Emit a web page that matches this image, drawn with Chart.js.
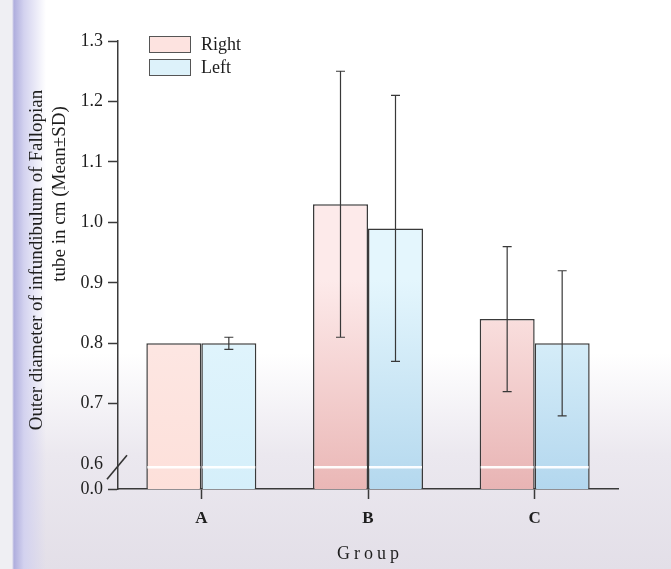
<!DOCTYPE html>
<html>
<head>
<meta charset="utf-8">
<script src="https://cdn.jsdelivr.net/npm/chart.js@4.4.1/dist/chart.umd.min.js"></script>
<style>
    html, body { margin: 0; padding: 0; }
    body {
        width: 671px; height: 569px; position: relative; overflow: hidden;
        font-family: "Liberation Serif", "DejaVu Serif", serif;
        background:
            linear-gradient(to right, #efeff3 0px, #efeff3 12px, #afaedd 14px, #d3d2ef 24px, rgba(255,255,255,0) 46px),
            linear-gradient(to bottom, #ffffff 0%, #ffffff 62%, #ebe8ef 80%, #e3dfe8 100%);
    }
    #chart { position: absolute; left: 0; top: 0; }
    .legend { position: absolute; left: 149px; top: 33px; color: #1e1e1e; font-size: 18px; }
    .legend-item { display: flex; align-items: center; height: 23px; }
    .legend-box { width: 40px; height: 15px; border: 1.5px solid #555; margin-right: 10px; }
</style>
</head>
<body>
<canvas id="chart" width="671" height="569"></canvas>
<div class="legend" id="legend"></div>
<script>
    const grupos = ['A', 'B', 'C'];
    const series = ['Right', 'Left'];
    const mediaRight = [0.80, 1.03, 0.84];
    const sdRight = [0.00, 0.22, 0.12];
    const mediaLeft = [0.80, 0.99, 0.80];
    const sdLeft = [0.01, 0.22, 0.12];
    const yTicks = [0.6, 0.7, 0.8, 0.9, 1.0, 1.1, 1.2, 1.3];
    const yTickLabels = ['0.6', '0.7', '0.8', '0.9', '1.0', '1.1', '1.2', '1.3'];
    const yZeroLabel = '0.0';
    const yBreakBottom = 0.559; // onde o 0.0 fica depois da quebra do eixo
    const yBreakMark = 0.595;

    const corTexto = '#1e1e1e';
    const corLinha = '#3a3a3a';
    const fonte = '"Liberation Serif", "DejaVu Serif", serif';

    // cores dos gradientes (topo, base) por grupo
    const gradRight = [['#fde9e6', '#fde0da'], ['#fdeaea', '#eab7b6'], ['#fde8e7', '#e8b4b4']];
    const gradLeft = [['#e4f6fd', '#d5effa'], ['#e4f6fd', '#b4d8ee'], ['#e4f6fd', '#b3d7ee']];

    function gradiente(grads) {
        return (ctx) => {
            const chart = ctx.chart;
            const area = chart.chartArea;
            const g = grads[ctx.dataIndex] || grads[0];
            if (!area) return g[0];
            const grd = chart.ctx.createLinearGradient(0, 280, 0, area.bottom);
            grd.addColorStop(0, g[0]);
            grd.addColorStop(1, g[1]);
            return grd;
        };
    }

    // legenda em HTML
    const legend = document.getElementById('legend');
    ['#fde3e0', '#ddf2fa'].forEach((c, i) => {
        const item = document.createElement('div');
        item.className = 'legend-item';
        item.innerHTML = `<span class="legend-box" style="background:${c}"></span><span>${series[i]}</span>`;
        legend.appendChild(item);
    });

    // barras de erro, quebra do eixo e títulos
    const extras = {
        id: 'extras',
        afterDatasetsDraw(chart) {
            const { ctx } = chart;
            const y = chart.scales.y;
            const sds = [sdRight, sdLeft];
            const means = [mediaRight, mediaLeft];
            const yb = y.getPixelForValue(yBreakMark);

            chart.data.datasets.forEach((ds, di) => {
                const meta = chart.getDatasetMeta(di);
                meta.data.forEach((bar, i) => {
                    // linha branca da quebra
                    ctx.save();
                    ctx.strokeStyle = 'rgba(255,255,255,0.95)';
                    ctx.lineWidth = 2.5;
                    ctx.beginPath();
                    ctx.moveTo(bar.x - bar.width / 2 + 1, yb);
                    ctx.lineTo(bar.x + bar.width / 2 - 1, yb);
                    ctx.stroke();
                    ctx.restore();

                    const sd = sds[di][i];
                    if (!sd) return;
                    const top = y.getPixelForValue(means[di][i] + sd);
                    const bot = y.getPixelForValue(means[di][i] - sd);
                    ctx.save();
                    ctx.strokeStyle = '#383838';
                    ctx.lineWidth = 1.2;
                    ctx.beginPath();
                    ctx.moveTo(bar.x, top); ctx.lineTo(bar.x, bot);
                    ctx.moveTo(bar.x - 4.5, top); ctx.lineTo(bar.x + 4.5, top);
                    ctx.moveTo(bar.x - 4.5, bot); ctx.lineTo(bar.x + 4.5, bot);
                    ctx.stroke();
                    ctx.restore();
                });
            });

            // traço da quebra no eixo y
            ctx.save();
            ctx.strokeStyle = '#333';
            ctx.lineWidth = 1.6;
            ctx.beginPath();
            ctx.moveTo(y.right - 11, yb + 12);
            ctx.lineTo(y.right + 9, yb - 12);
            ctx.stroke();
            ctx.restore();
        },
        afterDraw(chart) {
            const { ctx } = chart;
            ctx.save();
            ctx.fillStyle = corTexto;
            ctx.font = `19px ${fonte}`;
            ctx.textAlign = 'center';
            ctx.textBaseline = 'middle';
            [['Outer diameter of infundibulum of Fallopian', 37, 260], ['tube in cm (Mean\u00B1SD)', 60, 194]].forEach(([t, x, yy]) => {
                ctx.save();
                ctx.translate(x, yy);
                ctx.rotate(-Math.PI / 2);
                ctx.fillText(t, 0, 0);
                ctx.restore();
            });
            ctx.font = `18px ${fonte}`;
            ctx.letterSpacing = '4px';
            ctx.fillText('Group', 370, 554);
            ctx.restore();
        }
    };

    new Chart(document.getElementById('chart'), {
        type: 'bar',
        data: {
            labels: grupos,
            datasets: [
                {
                    label: series[0],
                    data: mediaRight,
                    backgroundColor: gradiente(gradRight),
                    borderColor: corLinha,
                    borderWidth: 1.5,
                    borderSkipped: 'bottom'
                },
                {
                    label: series[1],
                    data: mediaLeft,
                    backgroundColor: gradiente(gradLeft),
                    borderColor: corLinha,
                    borderWidth: 1.5,
                    borderSkipped: 'bottom'
                }
            ]
        },
        options: {
            responsive: false,
            devicePixelRatio: 1,
            animation: false,
            categoryPercentage: 0.66,
            barPercentage: 1.0,
            layout: { padding: { left: 0, right: 53, top: 41, bottom: 0 } },
            plugins: { legend: { display: false }, tooltip: { enabled: false } },
            scales: {
                x: {
                    grid: { drawOnChartArea: false, offset: false, tickLength: 10, tickColor: corLinha, tickWidth: 1.5 },
                    border: { display: true, color: corLinha, width: 1.5 },
                    ticks: { color: corTexto, padding: 9, font: { family: fonte, size: 17, weight: 'bold' } },
                    afterFit: (scale) => { scale.height = 80; }
                },
                y: {
                    min: yBreakBottom,
                    max: 1.3,
                    afterBuildTicks: (scale) => {
                        scale.ticks = [{ value: yBreakBottom }].concat(yTicks.map(v => ({ value: v })));
                    },
                    ticks: {
                        autoSkip: false,
                        color: corTexto,
                        padding: 5,
                        font: { family: fonte, size: 18 },
                        callback: (value, index) => index === 0 ? yZeroLabel : yTickLabels[index - 1]
                    },
                    grid: {
                        drawOnChartArea: false,
                        tickLength: 10,
                        tickWidth: 1.5,
                        tickColor: (ctx) => ctx.index === 1 ? 'rgba(0,0,0,0)' : corLinha
                    },
                    border: { display: true, color: corLinha, width: 1.5 },
                    afterFit: (scale) => { scale.width = 118; }
                }
            }
        },
        plugins: [extras]
    });
</script>
</body>
</html>
